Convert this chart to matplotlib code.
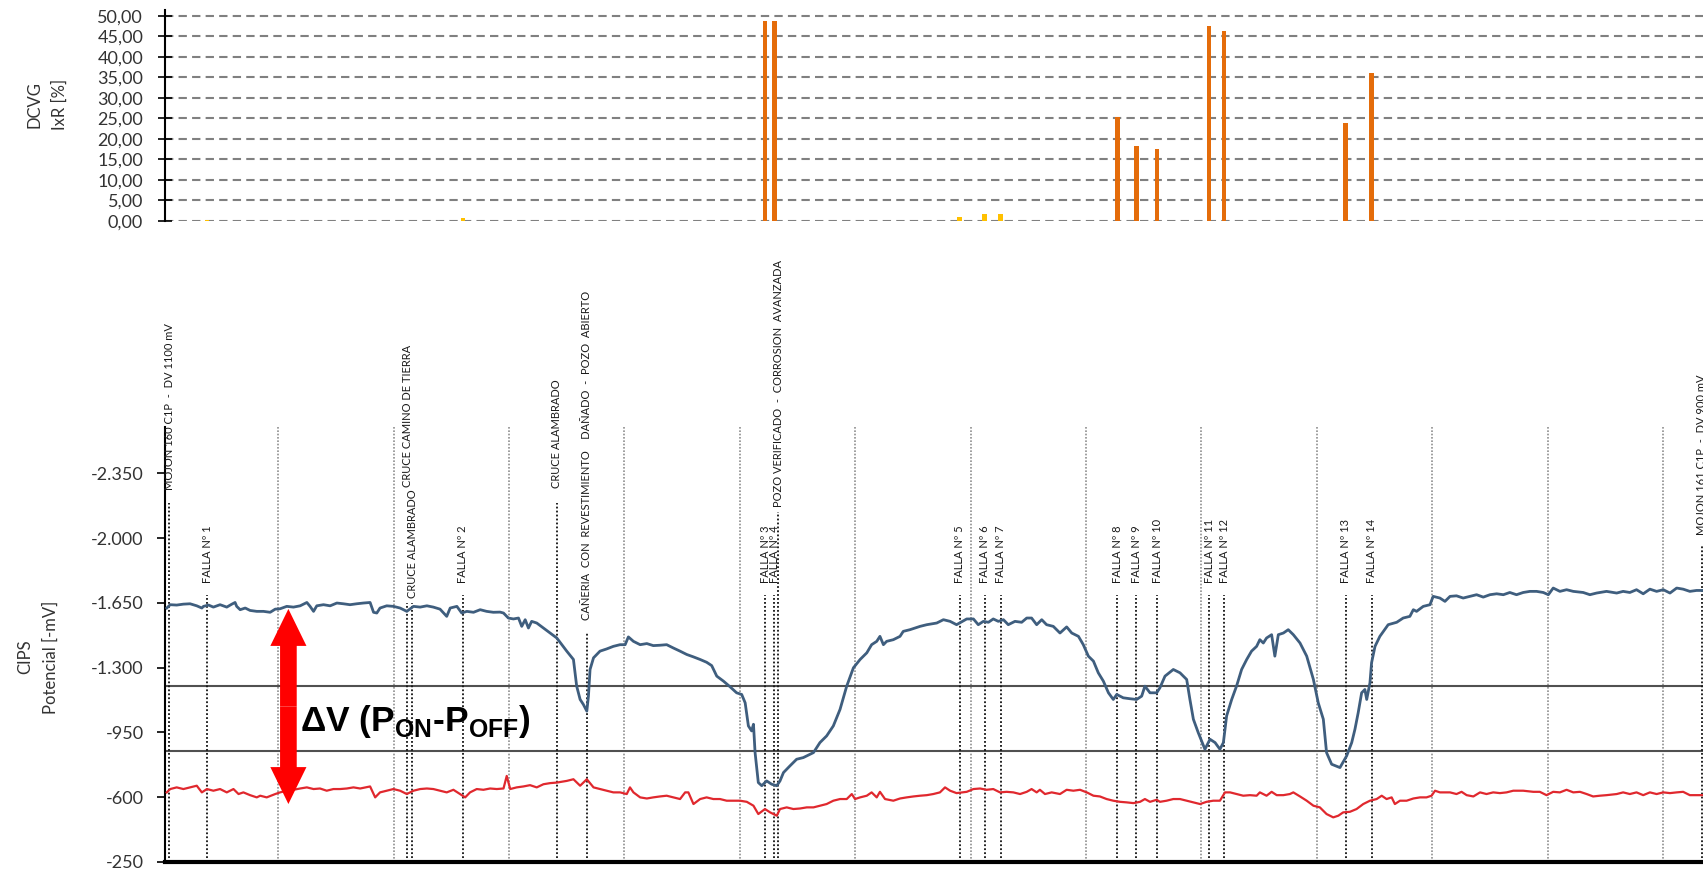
import numpy as np
import matplotlib
matplotlib.use("Agg")
import matplotlib.pyplot as plt
from matplotlib.patches import FancyArrowPatch, ArrowStyle
from matplotlib.ticker import FuncFormatter

plt.rcParams["font.family"] = ["Lato", "DejaVu Sans"]
plt.rcParams["mathtext.fontset"] = "custom"
plt.rcParams["mathtext.rm"] = "Liberation Sans"
plt.rcParams["mathtext.bf"] = "Liberation Sans:bold"

# --- DCVG: IxR [%] at each coating fault (distance in m) ---
falla_dist = [192, 1300, 2609, 2649, 3453, 3560, 3630, 4136, 4218, 4308, 4533, 4598, 5125, 5237]
dcvg_ir = [0.3, 0.7, 48.8, 48.8, 1.0, 1.7, 1.7, 25.4, 18.3, 17.5, 47.5, 46.3, 23.9, 36.0]
falla_labels = [f"FALLA Nº {i}" for i in range(1, 15)]

# --- CIPS: ON potential (mV) vs distance (m) ---
dist_on = [17, 32, 60, 89, 118, 147, 169, 176, 198, 219, 248, 277, 299, 313, 320, 335, 357, 378, 407, 436,
           465, 487, 508, 537, 566, 595, 624, 638, 653, 667, 696, 725, 754, 782, 811, 840, 869, 898, 913, 927,
           941, 970, 999, 1028, 1057, 1086, 1115, 1144, 1172, 1201, 1230, 1245, 1274, 1295, 1317, 1346, 1375,
           1403, 1432, 1461, 1476, 1497, 1519, 1541, 1555, 1570, 1584, 1598, 1620, 1649, 1678, 1707,
           1750, 1779, 1793, 1808, 1822, 1837, 1844, 1851, 1866, 1894, 1923, 1952, 1981, 2003, 2017, 2039,
           2068, 2097, 2125, 2154, 2183, 2212, 2241, 2270, 2299, 2328, 2356, 2378, 2400, 2429, 2458, 2486,
           2508, 2523, 2537, 2551, 2559, 2566, 2580, 2595, 2616, 2638, 2660, 2674, 2689, 2717, 2746, 2775,
           2819, 2847, 2876, 2905, 2934, 2963, 2992, 3021, 3050, 3071, 3093, 3107, 3122, 3136, 3165, 3194,
           3208, 3237, 3281, 3310, 3353, 3382, 3411, 3439,
           3483, 3512, 3533, 3555, 3577, 3598, 3620, 3642, 3663, 3692, 3721, 3743, 3764, 3786, 3808, 3829,
           3858, 3887, 3916, 3938, 3967, 3988, 4010, 4032, 4053, 4075, 4097, 4118, 4133, 4161, 4190, 4219,
           4241, 4255, 4277, 4306, 4320, 4342, 4378, 4407, 4436, 4450, 4465, 4486, 4515, 4537, 4559, 4580,
           4595, 4609, 4631, 4652, 4674, 4696, 4717, 4739, 4753, 4768, 4782, 4804, 4818, 4833, 4855, 4876,
           4898, 4927, 4956, 4985, 5006, 5028, 5042, 5064, 5100,
           5129, 5151, 5165, 5179, 5194, 5208, 5216, 5230, 5237, 5252, 5273, 5309, 5346, 5374, 5403, 5418,
           5432, 5461, 5490, 5504, 5533, 5555, 5577, 5605, 5634, 5663, 5692, 5721, 5750, 5779, 5808, 5836,
           5865, 5894, 5923, 5952, 5981, 6003, 6024, 6053, 6082, 6111, 6154, 6183, 6212, 6255, 6299, 6327,
           6356, 6385, 6414, 6443, 6472, 6501, 6530, 6559, 6587, 6616, 6645, 6673]
pot_on = [-1622, -1640, -1638, -1643, -1645, -1634, -1622, -1631, -1638, -1627, -1640, -1627, -1643, -1652,
          -1631, -1613, -1622, -1609, -1604, -1604, -1599, -1616, -1618, -1631, -1627, -1634, -1652, -1631,
          -1604, -1634, -1640, -1634, -1649, -1645, -1640, -1645, -1649, -1652, -1599, -1595, -1622, -1634,
          -1631, -1622, -1604, -1631, -1627, -1634, -1627, -1616, -1577, -1622, -1631, -1595, -1604, -1599,
          -1613, -1604, -1599, -1600, -1595, -1568, -1563, -1568, -1523, -1559, -1514, -1550, -1541, -1514,
          -1487, -1460,
          -1389, -1344, -1200, -1128, -1101, -1065, -1146, -1290, -1353, -1389, -1401, -1415, -1424, -1424,
          -1466, -1442, -1424, -1430, -1419, -1421, -1424, -1406, -1389, -1371, -1358, -1344, -1329, -1311,
          -1254, -1227, -1196, -1164, -1155, -1110, -985, -958, -994, -841, -679, -662, -688, -670, -662,
          -688, -733, -769, -805, -814, -841, -895, -931, -985, -1074, -1200, -1299, -1344, -1380, -1424,
          -1442, -1469, -1424, -1442, -1451, -1469, -1496, -1505, -1523, -1532, -1541, -1559, -1550, -1532,
          -1563, -1563, -1532, -1550, -1545, -1563, -1550, -1559, -1532, -1550, -1545, -1568, -1568, -1532,
          -1559, -1532, -1523, -1487, -1520, -1487, -1469, -1424, -1362, -1335, -1272, -1227, -1164, -1128,
          -1155, -1137, -1132, -1128, -1146, -1200, -1164, -1164, -1191, -1254, -1290, -1272, -1236, -1128,
          -1021, -949, -859, -913, -895, -859, -895, -1039, -1128, -1200, -1290, -1344, -1389, -1415, -1451,
          -1433, -1460, -1478, -1362, -1478, -1487, -1505, -1478, -1433, -1362, -1236, -1110, -1021, -841,
          -778, -760,
          -823, -895, -967, -1056, -1164, -1182, -1128, -1218, -1326, -1415, -1469, -1532, -1545, -1568,
          -1577, -1613, -1604, -1631, -1640, -1685, -1676, -1658, -1685, -1688, -1676, -1685, -1694, -1681,
          -1694, -1699, -1694, -1706, -1694, -1706, -1712, -1712, -1706, -1694, -1730, -1712, -1721, -1712,
          -1706, -1694, -1703, -1712, -1703, -1712, -1706, -1721, -1699, -1724, -1712, -1721, -1703, -1730,
          -1724, -1712, -1717, -1717]

# --- CIPS: OFF potential (mV) vs distance (m) ---
dist_off = [17, 32, 60, 89, 118, 147, 169, 191, 219, 248, 277, 306, 328, 349, 378, 407, 422, 450, 487, 508,
            537, 566, 595, 624, 653, 681, 710, 739, 768, 797, 826, 855, 898, 920, 941, 970, 999, 1028, 1057,
            1086, 1115, 1144, 1172, 1201, 1230, 1259, 1288, 1310, 1331, 1360, 1389, 1418, 1447, 1476, 1490,
            1505, 1533, 1562, 1591, 1620, 1649, 1678, 1707,
            1750, 1779, 1808, 1837, 1866, 1894, 1923, 1952, 1981, 2010, 2024, 2039, 2068, 2097, 2125, 2154,
            2183, 2212, 2241, 2263, 2277, 2299, 2328, 2356, 2385, 2414, 2443, 2472, 2501, 2530, 2559, 2580,
            2609, 2631, 2660, 2674, 2703, 2732, 2761, 2790, 2819, 2847, 2876, 2905, 2934, 2963, 2985, 2999,
            3021, 3050, 3071, 3093, 3107, 3129, 3165, 3194, 3223, 3252, 3281, 3310, 3338, 3367, 3389, 3411,
            3439,
            3483, 3512, 3541, 3569, 3598, 3627, 3656, 3685, 3714, 3743, 3764, 3786, 3800, 3822, 3851, 3887,
            3916, 3945, 3974, 4003, 4032, 4060, 4089, 4118, 4147, 4176, 4205, 4234, 4255, 4277, 4306, 4320,
            4349, 4378, 4407, 4436, 4465, 4494, 4522, 4551, 4580, 4602, 4624, 4652, 4681, 4710, 4739, 4753,
            4782, 4804, 4826, 4855, 4883, 4898, 4927, 4956, 4985, 5013, 5042, 5071, 5093,
            5114, 5143, 5172, 5201, 5230, 5259, 5281, 5302, 5324, 5338, 5360, 5389, 5418, 5447, 5475, 5497,
            5512, 5533, 5577, 5605, 5627, 5649, 5678, 5707, 5735, 5764, 5793, 5822, 5851, 5894, 5938, 5966,
            5995, 6024, 6053, 6082, 6111, 6140, 6169, 6197, 6226, 6255, 6299, 6327, 6356, 6385, 6414, 6443,
            6472, 6501, 6530, 6559, 6587, 6616, 6645, 6673]
pot_off = [-626, -644, -653, -644, -653, -662, -626, -644, -635, -644, -626, -644, -617, -626, -611, -599,
           -608, -599, -617, -626, -635, -640, -647, -653, -644, -647, -635, -644, -644, -647, -653, -647,
           -658, -599, -626, -635, -644, -635, -617, -635, -644, -647, -644, -635, -626, -640, -617, -599,
           -626, -644, -640, -647, -644, -647, -715, -644, -653, -658, -665, -653, -670, -676, -679,
           -688, -697, -662, -697, -653, -644, -635, -626, -626, -617, -653, -626, -599, -593, -599, -604,
           -608, -599, -590, -626, -626, -563, -590, -599, -590, -590, -581, -581, -581, -575, -554, -509,
           -536, -518, -500, -536, -545, -536, -539, -545, -545, -554, -563, -581, -590, -590, -617, -590,
           -599, -608, -626, -599, -629, -590, -581, -593, -599, -604, -608, -611, -617, -626, -653, -635,
           -622,
           -629, -644, -647, -640, -644, -626, -629, -626, -617, -629, -644, -626, -640, -617, -626, -617,
           -640, -635, -640, -626, -608, -604, -590, -581, -575, -572, -568, -575, -590, -575, -586, -575,
           -581, -590, -590, -581, -572, -563, -575, -581, -581, -626, -626, -617, -608, -611, -608, -626,
           -608, -629, -611, -611, -617, -626, -604, -581, -554, -545, -509, -491, -500,
           -518, -521, -536, -563, -581, -590, -608, -590, -599, -563, -581, -581, -593, -599, -599, -608,
           -635, -626, -626, -617, -629, -611, -604, -626, -617, -626, -622, -626, -635, -635, -629, -629,
           -611, -629, -626, -640, -626, -629, -617, -604, -608, -611, -617, -626, -617, -626, -611, -626,
           -617, -626, -622, -626, -629, -611, -611, -611]

# --- other points of interest along the line: label, distance, text base, marker top (mV) ---
hitos = [
    ("MOJON 160 C1P  -  DV 1100 mV", 27, -2259, -2189),
    ("CRUCE CAMINO DE TIERRA", 1060, -2276, -1651),
    ("CRUCE ALAMBRADO", 1081, -1678, -1651),
    ("CRUCE ALAMBRADO", 1707, -2270, -2189),
    ("CAÑERIA  CON  REVESTIMIENTO    DAÑADO  -  POZO  ABIERTO", 1837, -1559, -1494),
    ("POZO VERIFICADO  -  CORROSION  AVANZADA", 2667, -2168, -2141),
    ("MOJON 161 C1P  -  DV 900 mV", 6668, -2017, -1963),
]
falla_text_base = -1758
falla_line_top = -1694

criterios = [-1200, -850]
dv_dist, dv_on, dv_off = 544, -1617, -563

fig = plt.figure(figsize=(17.03, 8.72), dpi=100)
ax_top = fig.add_axes([0.0967, 0.7466, 0.9033, 0.2421])
ax = fig.add_axes([0.0967, 0.0115, 0.9033, 0.4988], sharex=ax_top)
ax.set_xlim(8, 6673)

# DCVG bars
bar_colors = ["#FFC000" if v < 15 else "#E46C0A" for v in dcvg_ir]
ax_top.bar(falla_dist, dcvg_ir, width=20, color=bar_colors, zorder=3)
ax_top.set_ylim(0, 51.5)
ax_top.set_yticks(np.arange(0, 51, 5))
ax_top.yaxis.set_major_formatter(FuncFormatter(lambda v, _: f"{v:.2f}".replace(".", ",")))
ax_top.yaxis.grid(True, color="#808080", lw=1.5, ls=(0, (4, 2.5)))
ax_top.set_axisbelow(True)
ax_top.tick_params(axis="y", direction="inout", length=10, width=1.2, pad=10.5,
                   labelsize=13, labelcolor="#333333")
ax_top.tick_params(axis="x", bottom=False, labelbottom=False)
for s in ["top", "right", "bottom"]:
    ax_top.spines[s].set_visible(False)
ax_top.spines["left"].set_linewidth(1.5)
ax_top.patch.set_alpha(0)

# CIPS potentials
ax.set_ylim(-250, -2600)
ax.set_yticks(range(-2350, -249, 350))
ax.yaxis.set_major_formatter(FuncFormatter(lambda v, _: f"{v:,.0f}".replace(",", ".")))
ax.tick_params(axis="y", direction="out", length=5.5, width=1.2, pad=9.5,
               labelsize=13, labelcolor="#333333")
ax.set_xticks(range(500, 6673, 500))
ax.tick_params(axis="x", length=0, labelbottom=False)
ax.xaxis.grid(True, color="#8f8f8f", lw=1.2, ls=(0, (1, 1)))
ax.set_axisbelow(True)
for s in ["top", "right"]:
    ax.spines[s].set_visible(False)
ax.spines["left"].set_linewidth(1.5)
ax.spines["bottom"].set_linewidth(3)

for c in criterios:
    ax.axhline(c, color="#505050", lw=1.5, zorder=2)

dotted = (0, (1, 1.2))
for lbl, d in zip(falla_labels, falla_dist):
    ax.vlines(d, -250, falla_line_top, colors="#111111", lw=1.3, linestyles=[dotted], zorder=2)
    ax.text(d, falla_text_base, lbl, rotation=90, ha="center", va="bottom",
            fontsize=8, color="#1a1a1a")
for lbl, d, base, top in hitos:
    ax.vlines(d, -250, top, colors="#111111", lw=1.3, linestyles=[dotted], zorder=2)
    ax.text(d, base, lbl, rotation=90, ha="center", va="bottom", fontsize=8, color="#1a1a1a")

ax.plot(dist_on, pot_on, color="#3f5e7e", lw=2, zorder=4)
ax.plot(dist_off, pot_off, color="#e0282e", lw=1.6, zorder=4)

# Delta V arrow between ON and OFF
mid = (dv_on + dv_off) / 2
style = ArrowStyle.Simple(head_length=0.665, head_width=0.65, tail_width=0.3)
for tip in (dv_on, dv_off):
    ax.add_patch(FancyArrowPatch((dv_dist, mid), (dv_dist, tip), arrowstyle=style,
                                 mutation_scale=40, color="#ff0000", lw=0,
                                 shrinkA=0, shrinkB=0, zorder=6))
ax.text(595, -955, r"ΔV (P$_{\mathbf{ON}}$-P$_{\mathbf{OFF}}$)", fontsize=25.5,
        fontweight="bold", family="Liberation Sans", ha="left", va="baseline", zorder=6)

fig.text(0.0279, 0.8807, "DCVG\nIxR [%]", rotation=90, ha="center", va="center",
         fontsize=12, linespacing=1.7, multialignment="center", color="#333333")
fig.text(0.0221, 0.2466, "CIPS\nPotencial [-mV]", rotation=90, ha="center", va="center",
         fontsize=12, linespacing=1.7, multialignment="center", color="#333333")

fig.savefig("out.png", dpi=100)
